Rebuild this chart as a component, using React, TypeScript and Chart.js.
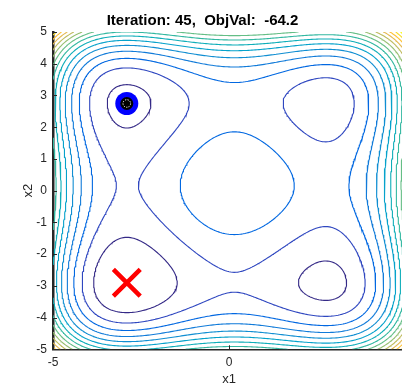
import React, { useEffect, useRef } from 'react';
import { Chart, registerables } from 'chart.js';

Chart.register(...registerables);

// ---------- chart content ----------
const titleText = 'Iteration: 45,  ObjVal:  -64.2';
const xAxisLabel = 'x1';
const yAxisLabel = 'x2';
const xTickValues = [-5, 0, 5];
const yTickValues = [-5, -4, -3, -2, -1, 0, 1, 2, 3, 4, 5];
const domainMin = -5;
const domainMax = 5;
const gridCount = 201;
const levelCount = 15;
// Styblinski–Tang objective, per coordinate: 0.5 * (x^4 - 16 x^2 + 5 x)
const objectiveCoefs = [1, -16, 5];
const currentPoint = [-2.9035, 2.7468];
const bestPoint = [-2.9035, -2.9035];

// parula colormap (64 entries)
const PARULA: number[][] = [
  [0.2081, 0.1663, 0.5292], [0.2116, 0.1898, 0.5777], [0.2123, 0.2138, 0.627], [0.2081, 0.2386, 0.6771],
  [0.1959, 0.2645, 0.7279], [0.1707, 0.2919, 0.7792], [0.1253, 0.3242, 0.8303], [0.0591, 0.3598, 0.8683],
  [0.0117, 0.3875, 0.882], [0.006, 0.4086, 0.8828], [0.0165, 0.4266, 0.8786], [0.0329, 0.443, 0.872],
  [0.0498, 0.4586, 0.8641], [0.0629, 0.4737, 0.8554], [0.0723, 0.4887, 0.8467], [0.0779, 0.504, 0.8384],
  [0.0793, 0.52, 0.8312], [0.0749, 0.5375, 0.8263], [0.0641, 0.557, 0.824], [0.0488, 0.5772, 0.8228],
  [0.0343, 0.5966, 0.8199], [0.0265, 0.6137, 0.8135], [0.0239, 0.6287, 0.8038], [0.0231, 0.6418, 0.7913],
  [0.0228, 0.6535, 0.7768], [0.0267, 0.6642, 0.7607], [0.0384, 0.6743, 0.7436], [0.059, 0.6838, 0.7254],
  [0.0843, 0.6928, 0.7062], [0.1133, 0.7015, 0.6859], [0.1453, 0.7098, 0.6646], [0.1801, 0.7177, 0.6424],
  [0.2178, 0.725, 0.6193], [0.2586, 0.7317, 0.5954], [0.3022, 0.7376, 0.5712], [0.3482, 0.7424, 0.5473],
  [0.3953, 0.7459, 0.5244], [0.442, 0.7481, 0.5033], [0.4871, 0.7491, 0.484], [0.53, 0.7491, 0.4661],
  [0.5709, 0.7485, 0.4494], [0.6099, 0.7473, 0.4337], [0.6473, 0.7456, 0.4188], [0.6834, 0.7435, 0.4044],
  [0.7184, 0.7411, 0.3905], [0.7525, 0.7384, 0.3768], [0.7858, 0.7356, 0.3633], [0.8185, 0.7327, 0.3498],
  [0.8507, 0.7299, 0.336], [0.8824, 0.7274, 0.3217], [0.9139, 0.7258, 0.3063], [0.945, 0.7261, 0.2886],
  [0.9739, 0.7314, 0.2666], [0.9938, 0.7455, 0.2403], [0.999, 0.7653, 0.2164], [0.9955, 0.7861, 0.1967],
  [0.988, 0.8066, 0.1794], [0.9789, 0.8271, 0.1633], [0.9697, 0.8481, 0.1475], [0.9626, 0.8705, 0.1309],
  [0.9589, 0.8949, 0.1132], [0.9598, 0.9218, 0.0948], [0.9661, 0.9514, 0.0755], [0.9763, 0.9831, 0.0538],
];

function parula(t: number): string {
  const f = Math.max(0, Math.min(1, t)) * (PARULA.length - 1);
  const lo = Math.floor(f);
  const hi = Math.min(PARULA.length - 1, lo + 1);
  const w = f - lo;
  const c = [0, 1, 2].map((k) => Math.round(255 * (PARULA[lo][k] * (1 - w) + PARULA[hi][k] * w)));
  return `rgb(${c[0]},${c[1]},${c[2]})`;
}

type Pt = { x: number; y: number };

function buildContours(): { level: number; lines: Pt[][] }[] {
  const N = gridCount;
  const h = (domainMax - domainMin) / (N - 1);
  const coord = Array.from({ length: N }, (_, i) => domainMin + i * h);
  const g = (v: number) =>
    0.5 * (objectiveCoefs[0] * v ** 4 + objectiveCoefs[1] * v * v + objectiveCoefs[2] * v);
  const gv = coord.map(g);
  const Z = new Float64Array(N * N);
  let zmin = Infinity;
  let zmax = -Infinity;
  for (let j = 0; j < N; j++) {
    for (let i = 0; i < N; i++) {
      const z = gv[i] + gv[j];
      Z[j * N + i] = z;
      if (z < zmin) zmin = z;
      if (z > zmax) zmax = z;
    }
  }
  const levels: number[] = [];
  for (let k = 1; k <= levelCount; k++) levels.push(zmin + ((zmax - zmin) * k) / (levelCount + 1));

  const trace = (L: number): Pt[][] => {
    const sa: number[] = [];
    const sb: number[] = [];
    const adj = new Map<number, number[]>();
    const add = (a: number, b: number) => {
      const s = sa.length;
      sa.push(a);
      sb.push(b);
      if (!adj.has(a)) adj.set(a, []);
      if (!adj.has(b)) adj.set(b, []);
      adj.get(a)!.push(s);
      adj.get(b)!.push(s);
    };
    for (let j = 0; j < N - 1; j++) {
      for (let i = 0; i < N - 1; i++) {
        const v0 = Z[j * N + i];
        const v1 = Z[j * N + i + 1];
        const v2 = Z[(j + 1) * N + i + 1];
        const v3 = Z[(j + 1) * N + i];
        const c = (v0 > L ? 1 : 0) | (v1 > L ? 2 : 0) | (v2 > L ? 4 : 0) | (v3 > L ? 8 : 0);
        if (c === 0 || c === 15) continue;
        const e0 = (j * N + i) * 2;
        const e1 = (j * N + i + 1) * 2 + 1;
        const e2 = ((j + 1) * N + i) * 2;
        const e3 = (j * N + i) * 2 + 1;
        const crossed: number[] = [];
        if ((c ^ (c >> 1)) & 1) crossed.push(e0);
        if (((c >> 1) ^ (c >> 2)) & 1) crossed.push(e1);
        if (((c >> 2) ^ (c >> 3)) & 1) crossed.push(e2);
        if (((c >> 3) ^ c) & 1) crossed.push(e3);
        if (crossed.length === 2) add(crossed[0], crossed[1]);
        else {
          const center = (v0 + v1 + v2 + v3) / 4 > L;
          if (c === 5) {
            if (center) { add(e0, e1); add(e2, e3); } else { add(e3, e0); add(e1, e2); }
          } else {
            if (center) { add(e3, e0); add(e1, e2); } else { add(e0, e1); add(e2, e3); }
          }
        }
      }
    }
    const edgePoint = (key: number): Pt => {
      const type = key & 1;
      const idx = key >> 1;
      const i = idx % N;
      const j = Math.floor(idx / N);
      const a = Z[j * N + i];
      if (type === 0) {
        const b = Z[j * N + i + 1];
        const t = (L - a) / (b - a);
        return { x: coord[i] + t * h, y: coord[j] };
      }
      const b = Z[(j + 1) * N + i];
      const t = (L - a) / (b - a);
      return { x: coord[i], y: coord[j] + t * h };
    };
    const used = new Uint8Array(sa.length);
    const lines: Pt[][] = [];
    const extend = (startKey: number, out: number[]) => {
      let cur = startKey;
      for (;;) {
        const list = adj.get(cur)!;
        let next = -1;
        for (const t of list) if (!used[t]) { next = t; break; }
        if (next < 0) break;
        used[next] = 1;
        const other = sa[next] === cur ? sb[next] : sa[next];
        out.push(other);
        cur = other;
      }
    };
    for (let s = 0; s < sa.length; s++) {
      if (used[s]) continue;
      used[s] = 1;
      const fwd = [sa[s], sb[s]];
      extend(sb[s], fwd);
      const back: number[] = [];
      extend(sa[s], back);
      const keys = back.reverse().concat(fwd);
      lines.push(keys.map(edgePoint));
    }
    return lines;
  };

  return levels.map((level) => ({ level, lines: trace(level) }));
}

const FONT = "'Liberation Sans', Arial, Helvetica, sans-serif";
const AXIS_COLOR = '#262626';
const CANVAS_W = 430;
const CANVAS_H = 400;

const overlayPlugin = {
  id: 'overlay',
  afterDatasetsDraw(chart: any) {
    const { ctx, scales } = chart;
    const px = scales.x.getPixelForValue(currentPoint[0]);
    const py = scales.y.getPixelForValue(currentPoint[1]);
    ctx.save();
    ctx.strokeStyle = '#ffffff';
    ctx.lineWidth = 1;
    ctx.setLineDash([1.3, 1.3]);
    ctx.beginPath();
    ctx.arc(px, py, 3.8, 0, Math.PI * 2);
    ctx.stroke();
    ctx.restore();
  },
  afterDraw(chart: any) {
    const { ctx, scales, chartArea } = chart;
    ctx.save();
    ctx.strokeStyle = AXIS_COLOR;
    ctx.lineWidth = 1;
    ctx.beginPath();
    for (const v of yTickValues) {
      const py = Math.round(scales.y.getPixelForValue(v)) + 0.5;
      ctx.moveTo(chartArea.left, py);
      ctx.lineTo(chartArea.left + 4, py);
    }
    for (const v of xTickValues) {
      const px = Math.round(scales.x.getPixelForValue(v)) + 0.5;
      ctx.moveTo(px, chartArea.bottom);
      ctx.lineTo(px, chartArea.bottom - 4);
    }
    ctx.stroke();
    ctx.restore();
  },
};

export default function App() {
  const canvasRef = useRef<HTMLCanvasElement | null>(null);

  useEffect(() => {
    if (!canvasRef.current) return;
    const contours = buildContours();
    const contourSets: any[] = [];
    contours.forEach((c, k) => {
      const color = parula(k / (levelCount - 1));
      for (const line of c.lines) {
        contourSets.push({
          data: line,
          showLine: true,
          borderColor: color,
          borderWidth: 1.1,
          pointRadius: 0,
          pointHoverRadius: 0,
          fill: false,
          tension: 0,
        });
      }
    });

    const markerSets: any[] = [
      {
        data: [{ x: currentPoint[0], y: currentPoint[1] }],
        pointRadius: 6.5,
        pointBackgroundColor: '#000000',
        pointBorderWidth: 0,
        showLine: false,
      },
      {
        data: [{ x: currentPoint[0], y: currentPoint[1] }],
        pointRadius: 11.5,
        pointBackgroundColor: '#0000ff',
        pointBorderWidth: 0,
        showLine: false,
      },
      {
        data: [{ x: bestPoint[0], y: bestPoint[1] }],
        pointStyle: 'crossRot',
        pointRadius: 19,
        pointBorderColor: '#ff0000',
        pointBorderWidth: 4.5,
        showLine: false,
      },
    ];

    const chart = new Chart(canvasRef.current, {
      type: 'scatter',
      data: { datasets: [...markerSets, ...contourSets] },
      options: {
        animation: false,
        responsive: false,
        devicePixelRatio: 1,
        events: [],
        layout: { padding: { left: 0, right: 25, top: 0, bottom: 0 } },
        plugins: {
          legend: { display: false },
          tooltip: { enabled: false },
          title: {
            display: true,
            text: titleText,
            color: '#000000',
            font: { family: FONT, size: 15, weight: 'bold' },
            padding: { top: 12, bottom: 2 },
          },
        },
        scales: {
          x: {
            type: 'linear',
            min: domainMin,
            max: domainMax,
            z: 1,
            afterFit: (s: any) => {
              s.height = 50.7;
            },
            ticks: {
              stepSize: xTickValues[1] - xTickValues[0],
              autoSkip: false,
              maxRotation: 0,
              padding: 6,
              color: AXIS_COLOR,
              font: { family: FONT, size: 12 },
            },
            grid: { display: true, drawOnChartArea: false, drawTicks: false },
            border: { display: true, color: AXIS_COLOR, width: 1.5 },
            title: {
              display: true,
              text: xAxisLabel,
              color: AXIS_COLOR,
              font: { family: FONT, size: 13 },
              padding: { top: 0, bottom: 12.7 },
            },
          },
          y: {
            type: 'linear',
            min: domainMin,
            max: domainMax,
            z: 1,
            afterFit: (s: any) => {
              s.width = 53;
            },
            ticks: {
              stepSize: yTickValues[1] - yTickValues[0],
              autoSkip: false,
              padding: 6,
              color: AXIS_COLOR,
              font: { family: FONT, size: 12 },
            },
            grid: { display: true, drawOnChartArea: false, drawTicks: false },
            border: { display: true, color: AXIS_COLOR, width: 2.5 },
            title: {
              display: true,
              text: yAxisLabel,
              color: AXIS_COLOR,
              font: { family: FONT, size: 13 },
              padding: { top: 20.7, bottom: 0 },
            },
          },
        },
      },
      plugins: [overlayPlugin],
    } as any);

    return () => chart.destroy();
  }, []);

  return (
    <div style={{ position: 'fixed', left: 0, top: 0, width: CANVAS_W, height: CANVAS_H, background: '#ffffff' }}>
      <canvas ref={canvasRef} width={CANVAS_W} height={CANVAS_H} style={{ width: CANVAS_W, height: CANVAS_H }} />
    </div>
  );
}
